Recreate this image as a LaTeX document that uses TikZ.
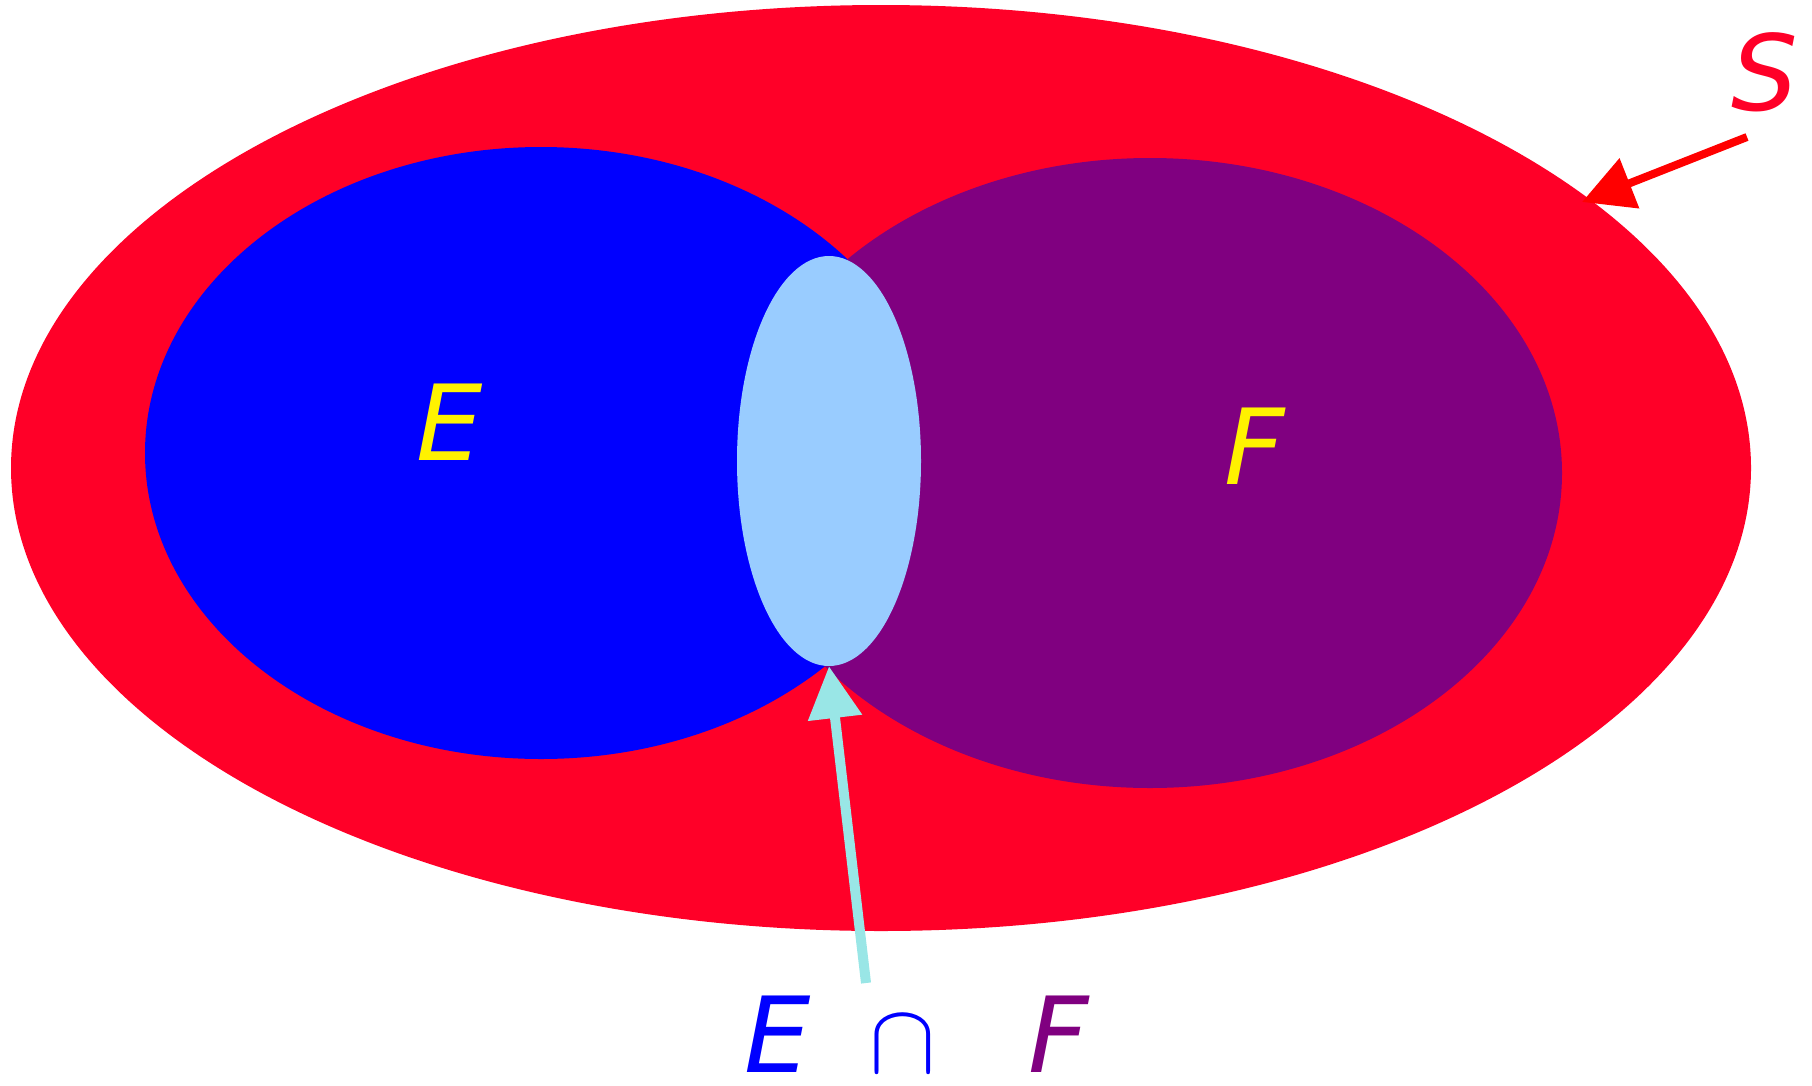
\documentclass[tikz,border=0pt]{standalone}
\usepackage{fix-cm}
\usepackage{fontspec}
\newfontfamily\handfont{DejaVu Sans}
\usepackage{tikz}
\usetikzlibrary{arrows.meta,positioning,shapes.geometric}
\definecolor{setred}{RGB}{255,0,40}
\definecolor{arrowred}{RGB}{255,0,0}
\definecolor{setpurple}{RGB}{128,0,128}
\definecolor{lensblue}{RGB}{153,204,255}
\definecolor{lenscyan}{RGB}{153,230,230}

\begin{document}
\begin{tikzpicture}[
  x=1pt, y=-1pt,
  set/.style={ellipse, inner sep=0pt, draw=none},
  lbl/.style={font=\handfont\itshape\fontsize{105}{110}\selectfont, inner sep=0pt},
  capsym/.style={font=\fontsize{100}{110}\selectfont, inner sep=0pt},
  ptr/.style={line width=#1}]
\useasboundingbox (0,0) rectangle (1812,1085);

% sample space and the two events
\node[set, fill=setred, minimum width=1740pt, minimum height=926pt] (S) at (881,468) {};
\node[set, fill=blue, minimum width=792pt, minimum height=612pt] (E) at (541,453) {};
\node[set, fill=setpurple, minimum width=824pt, minimum height=630pt] (F) at (1150,473) {};
\node[set, fill=lensblue, minimum width=184pt, minimum height=410pt] (lens) at (829,461) {};

% labels
\node[lbl, text=yellow] (Elbl) at (450,422) {E};
\node[lbl, text=yellow] (Flbl) at (1255,446) {F};
\node[lbl, text=setred] (Slbl) at (1765,72) {S};

\node[lbl, text=blue] (EFe) at (778,1034) {E};
\node[capsym, text=blue, base right=58pt of EFe] (cap) {$\cap$};
\node[lbl, text=setpurple, base right=92pt of cap] (EFf) {F};

% pointers
\coordinate (Stail) at (1747,137);
\coordinate (Stip) at (1582,202);
\draw[ptr=8pt, arrowred, -{Triangle[length=51pt,width=52pt]}] (Stail) -- (Stip);

\coordinate (captail) at (866,983);
\draw[ptr=10pt, lenscyan, -{Triangle[length=52pt,width=52pt]}] (captail) -- (lens.south);
\end{tikzpicture}
\end{document}
